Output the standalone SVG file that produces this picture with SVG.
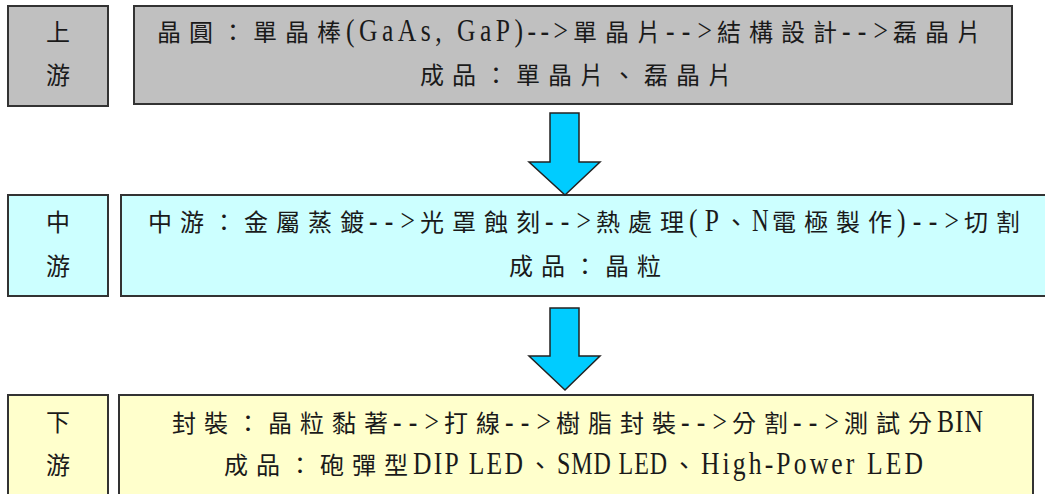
<svg xmlns="http://www.w3.org/2000/svg" width="1045" height="494" viewBox="0 0 1045 494">
<style>
  .box { stroke: #333; stroke-width: 2; }
  .up { fill: #c0c0c0; }
  .mid { fill: #ccffff; }
  .down { fill: #ffffcc; }
  text { font-family: "Noto Sans CJK TC", "Liberation Serif", sans-serif; font-size: 24px; fill: #1a1a1a; }
  .l { font-family: "Liberation Serif", "Noto Sans CJK TC", serif; font-size: 32px; }
  .lbl { text-anchor: middle; }
  .arrow { fill: #00ccff; stroke: #222; stroke-width: 1.5; stroke-linejoin: miter; }
</style>
<rect width="1045" height="494" fill="#ffffff"/>

<g id="upstream-label">
  <rect class="box up" x="8" y="6" width="100" height="100"/>
  <text class="lbl" x="58" y="41">上</text>
  <text class="lbl" x="58" y="84">游</text>
</g>
<g id="upstream">
  <rect class="box up" x="134" y="6" width="878" height="98"/>
  <text y="41"><tspan x="157 189 221 253 285 317">晶圓：單晶棒</tspan><tspan x="573 605 637">單晶片</tspan><tspan x="717 749 781 813">結構設計</tspan><tspan x="893 925 957">磊晶片</tspan></text>
  <text class="l" transform="translate(346,41) scale(0.8,1)" textLength="277.5" lengthAdjust="spacing">(GaAs, GaP)--&gt;</text>
  <text class="l" transform="translate(666,41) scale(0.8,1)" textLength="57.5" lengthAdjust="spacing">--&gt;</text>
  <text class="l" transform="translate(842,41) scale(0.8,1)" textLength="57.5" lengthAdjust="spacing">--&gt;</text>
  <text y="84"><tspan x="420 452 484 516 548 580 612 644 676 708">成品：單晶片、磊晶片</tspan></text>
</g>

<g id="midstream-label">
  <rect class="box mid" x="8" y="195" width="100" height="101"/>
  <text class="lbl" x="58" y="231">中</text>
  <text class="lbl" x="58" y="275">游</text>
</g>
<g id="midstream">
  <rect class="box mid" x="121" y="195" width="935" height="101"/>
  <text y="231"><tspan x="148 180 212 244 276 308 340">中游：金屬蒸鍍</tspan><tspan x="420 452 484 516">光罩蝕刻</tspan><tspan x="596 628 660">熱處理</tspan><tspan x="724">、</tspan><tspan x="772 804 836 868">電極製作</tspan><tspan x="964 996">切割</tspan></text>
  <text class="l" transform="translate(369,231) scale(0.8,1)" textLength="57.5" lengthAdjust="spacing">--&gt;</text>
  <text class="l" transform="translate(545,231) scale(0.8,1)" textLength="57.5" lengthAdjust="spacing">--&gt;</text>
  <text class="l" transform="translate(689,231) scale(0.8,1)" textLength="37.5" lengthAdjust="spacing">(P</text>
  <text class="l" transform="translate(752,231) scale(0.72,1)">N</text>
  <text class="l" transform="translate(897,231) scale(0.8,1)" textLength="77.5" lengthAdjust="spacing">)--&gt;</text>
  <text y="275"><tspan x="509 541 573 605 637">成品：晶粒</tspan></text>
</g>

<g id="downstream-label">
  <rect class="box down" x="8" y="395" width="100" height="110"/>
  <text class="lbl" x="58" y="431">下</text>
  <text class="lbl" x="58" y="474">游</text>
</g>
<g id="downstream">
  <rect class="box down" x="119" y="395" width="914" height="110"/>
  <text y="432"><tspan x="172 204 236 268 300 332 364">封裝：晶粒黏著</tspan><tspan x="444 476">打線</tspan><tspan x="556 588 620 652">樹脂封裝</tspan><tspan x="732 764">分割</tspan><tspan x="844 876 908">測試分</tspan></text>
  <text class="l" transform="translate(393,432) scale(0.8,1)" textLength="57.5" lengthAdjust="spacing">--&gt;</text>
  <text class="l" transform="translate(505,432) scale(0.8,1)" textLength="57.5" lengthAdjust="spacing">--&gt;</text>
  <text class="l" transform="translate(681,432) scale(0.8,1)" textLength="57.5" lengthAdjust="spacing">--&gt;</text>
  <text class="l" transform="translate(793,432) scale(0.8,1)" textLength="57.5" lengthAdjust="spacing">--&gt;</text>
  <text class="l" transform="translate(937,432) scale(0.8,1)" textLength="57.5" lengthAdjust="spacing">BIN</text>
  <text y="474"><tspan x="224 256 288 320 352 384">成品：砲彈型</tspan><tspan x="528">、</tspan><tspan x="672">、</tspan></text>
  <text class="l" transform="translate(413,474) scale(0.8,1)" textLength="137.5" lengthAdjust="spacing">DIP LED</text>
  <text class="l" transform="translate(557,474) scale(0.75,1)" textLength="146.7" lengthAdjust="spacing">SMD LED</text>
  <text class="l" transform="translate(701,474) scale(0.8,1)" textLength="277.5" lengthAdjust="spacing">High-Power LED</text>
</g>

<g id="connectors">
  <polygon class="arrow" points="550,113 579,113 579,162 600,162 565,195 529,162 550,162"/>
  <polygon class="arrow" points="550,308 579,308 579,356 600,356 565,390 529,356 550,356"/>
</g>
</svg>
